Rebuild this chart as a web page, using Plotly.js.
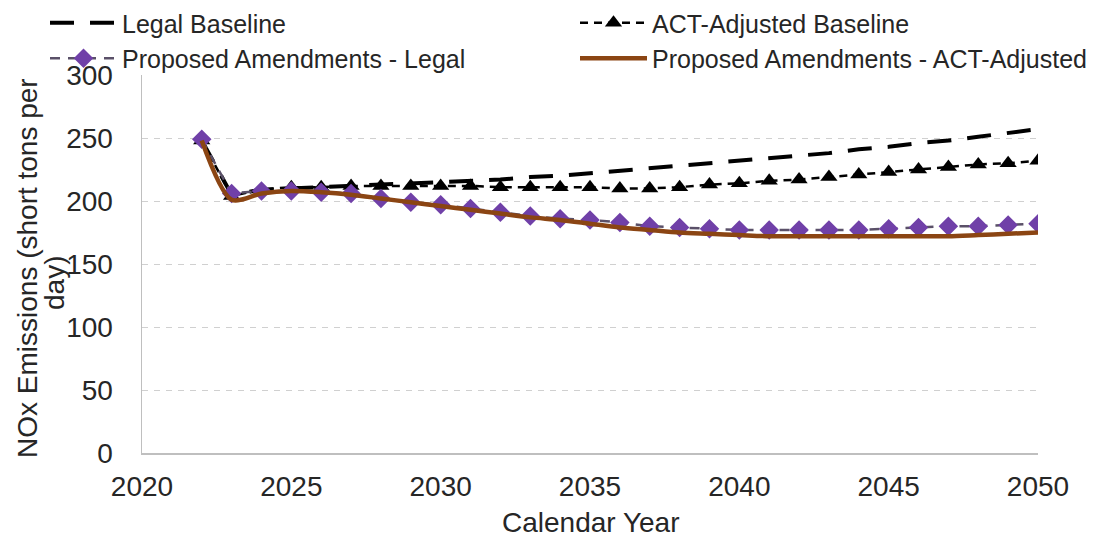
<!DOCTYPE html>
<html>
<head>
<meta charset="utf-8">
<script src="https://cdn.plot.ly/plotly-3.0.1.min.js"></script>
<style>html,body{margin:0;padding:0;background:#fff;}#chart{width:1107px;height:539px;}</style>
</head>
<body>
<div id="chart"></div>
<script>
var years = [2022,2023,2024,2025,2026,2027,2028,2029,2030,2031,2032,2033,2034,2035,2036,2037,2038,2039,2040,2041,2042,2043,2044,2045,2046,2047,2048,2049,2050];
var legalBaseline = [248,205,209,210,211,212,213,214,215,216,217,219,220,222,224,226,228,230,232,234,236,238,241,243,246,248,251,254,257];
var actBaseline = [248,204,209,211,211,212,212,212,212,212,211,211,211,211,210,210,211,213,214,216,217,219,221,223,225,227,229,230,232];
var proposedLegal = [249,206,208,208,207,206,202,199,197,194,191,188,186,185,183,180,179,178,177,177,177,177,177,178,179,180,180,181,182];
var proposedACT = [248,201,206,208,207,205,202,199,196,193,190,187,185,182,179,177,175,174,173,172,172,172,172,172,172,172,173,174,175];
var seriesNames = ["Legal Baseline","ACT-Adjusted Baseline","Proposed Amendments - Legal","Proposed Amendments - ACT-Adjusted"];
var xTicks = [2020,2025,2030,2035,2040,2045,2050];
var yTicks = [0,50,100,150,200,250,300];
var xTitle = "Calendar Year";
var yTitleLines = ["NOx Emissions (short tons per", "day)"];

var FONT = "Liberation Sans, Arial, sans-serif";
var TXT = "#262626";
var traces = [
  {x: years, y: legalBaseline, name: seriesNames[0], mode: "lines", legend: "legend",
   line: {color: "#000000", width: 4, dash: "24px,16px"}},
  {x: years, y: actBaseline, name: seriesNames[1], mode: "lines+markers", legend: "legend2",
   line: {color: "#000000", width: 2.5, dash: "8px,6px"},
   marker: {symbol: "triangle-up", size: 15, color: "#000000"}},
  {x: years, y: proposedLegal, name: seriesNames[2], mode: "lines+markers", legend: "legend",
   line: {color: "#5a5068", width: 2.5, dash: "10px,8px"},
   marker: {symbol: "diamond", size: 15, color: "#7040A8"}},
  {x: years, y: proposedACT, name: seriesNames[3], mode: "lines", legend: "legend2",
   line: {color: "#8B4513", width: 4.5, shape: "spline", smoothing: 0.8}}
];

var legendBase = {orientation: "v", xref: "container", yref: "container", xanchor: "left",
  y: 1.024, yanchor: "top", font: {family: FONT, size: 25, color: TXT},
  itemwidth: 67, tracegroupgap: 0, bgcolor: "rgba(0,0,0,0)", borderwidth: 0};

var layout = {
  width: 1107, height: 539,
  margin: {l: 142, r: 69, t: 75, b: 86, autoexpand: false},
  paper_bgcolor: "#ffffff", plot_bgcolor: "#ffffff",
  font: {family: FONT, color: TXT, size: 28},
  showlegend: true,
  legend: Object.assign({}, legendBase, {x: 45 / 1107}),
  legend2: Object.assign({}, legendBase, {x: 575 / 1107}),
  xaxis: {range: [2020, 2050], tickvals: xTicks, ticktext: xTicks.map(String),
          showgrid: false, zeroline: false, showline: true, linecolor: "#bfbfbf", linewidth: 1.5,
          ticks: "", ticklabelstandoff: 8, tickfont: {family: FONT, size: 28, color: TXT},
          automargin: false, fixedrange: true},
  yaxis: {range: [0, 300], tickvals: yTicks, ticktext: yTicks.map(String),
          showgrid: true, gridcolor: "#d0d0d0", griddash: "6px,6px", gridwidth: 1,
          zeroline: false, showline: true, linecolor: "#bfbfbf", linewidth: 1.5,
          ticks: "", ticklabelstandoff: 22, tickfont: {family: FONT, size: 28, color: TXT},
          automargin: false, fixedrange: true},
  annotations: [
    {text: xTitle, xref: "paper", yref: "paper", x: 0.5, y: -0.183, xanchor: "center", yanchor: "middle",
     showarrow: false, font: {family: FONT, size: 28, color: TXT}},
    {text: yTitleLines[0], xref: "paper", yref: "paper", x: -0.127, y: 0.49, xanchor: "center", yanchor: "middle",
     textangle: -90, showarrow: false, font: {family: FONT, size: 28, color: TXT}},
    {text: yTitleLines[1], xref: "paper", yref: "paper", x: -0.097, y: 0.45, xanchor: "center", yanchor: "middle",
     textangle: -90, showarrow: false, font: {family: FONT, size: 28, color: TXT}}
  ]
};
Plotly.newPlot("chart", traces, layout, {displayModeBar: false, staticPlot: true});
</script>
</body>
</html>
